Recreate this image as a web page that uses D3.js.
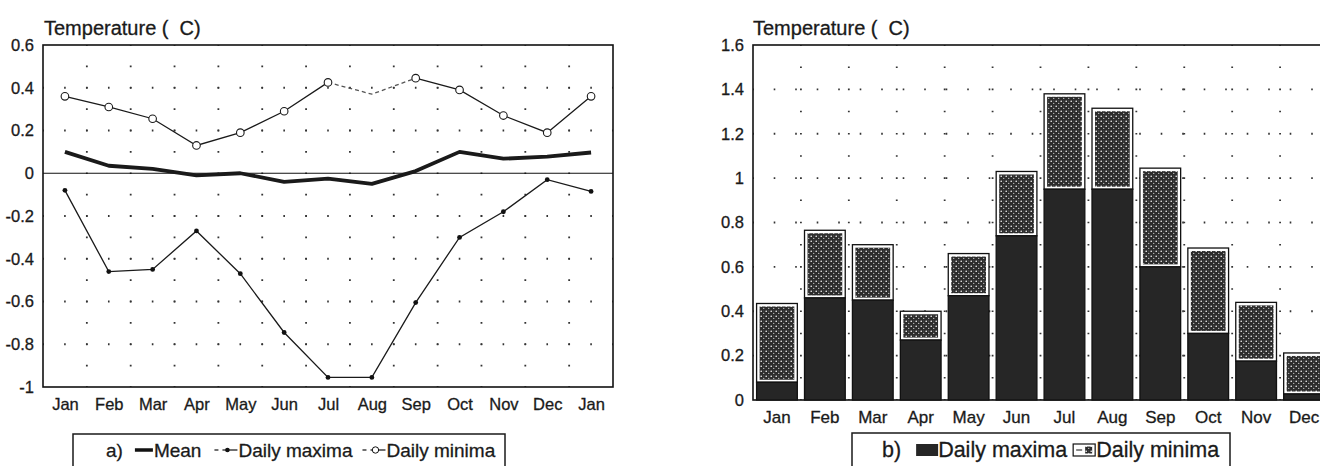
<!DOCTYPE html>
<html>
<head>
<meta charset="utf-8">
<script src="https://cdn.jsdelivr.net/npm/d3@7"></script>
<style>
body { margin: 0; background: #fff; }
text { font-family: "Liberation Sans", Arial, Helvetica, sans-serif; fill: #1a1a1a; stroke: #1a1a1a; stroke-width: 0.3px; }
</style>
</head>
<body>
<div id="chart"></div>
<script>
var width = 1320, height = 466;

// month labels (panel a wraps round to January again)
var monthsA = ["Jan", "Feb", "Mar", "Apr", "May", "Jun", "Jul", "Aug", "Sep", "Oct", "Nov", "Dec", "Jan"];
var monthsB = monthsA.slice(0, 12);

// panel a) series
var meanVals = [0.10, 0.035, 0.02, -0.01, 0.0, -0.04, -0.025, -0.05, 0.01, 0.10, 0.068, 0.078, 0.097];
var maxVals = [-0.08, -0.46, -0.45, -0.27, -0.47, -0.745, -0.955, -0.955, -0.605, -0.30, -0.18, -0.03, -0.085];
var minVals = [0.36, 0.31, 0.255, 0.13, 0.19, 0.29, 0.425, 0.37, 0.445, 0.39, 0.27, 0.19, 0.36];
var ticksA = [0.6, 0.4, 0.2, 0, -0.2, -0.4, -0.6, -0.8, -1];

// panel b) stacked bars
var barMax = [0.08, 0.46, 0.45, 0.27, 0.47, 0.74, 0.95, 0.95, 0.60, 0.30, 0.175, 0.027];
var barMin = [0.355, 0.305, 0.25, 0.13, 0.19, 0.29, 0.43, 0.365, 0.445, 0.385, 0.265, 0.185];
var ticksB = [1.6, 1.4, 1.2, 1, 0.8, 0.6, 0.4, 0.2, 0];

var svg = d3.select("#chart")
    .append("svg")
    .attr("width", width)
    .attr("height", height);

// stipple texture for the minima part of the bars
var defs = svg.append("defs");
var pat = defs.append("pattern").attr("id", "stip")
    .attr("patternUnits", "userSpaceOnUse").attr("width", 5).attr("height", 5);
pat.append("rect").attr("width", 5).attr("height", 5).attr("fill", "#2c2c2c");
pat.append("circle").attr("cx", 1.2).attr("cy", 1.2).attr("r", 0.8).attr("fill", "#fff");
pat.append("circle").attr("cx", 3.7).attr("cy", 3.4).attr("r", 0.7).attr("fill", "#bbb");
pat.append("circle").attr("cx", 3.8).attr("cy", 0.9).attr("r", 0.45).attr("fill", "#888");

// dotted grid line helper
function dotLine(g, x1, y1, x2, y2, gap) {
    g.append("line")
        .attr("x1", x1).attr("y1", y1).attr("x2", x2).attr("y2", y2)
        .attr("stroke", "#333").attr("stroke-width", 1.8)
        .attr("stroke-dasharray", "1.6," + (gap - 1.6))
        .attr("stroke-dashoffset", 0.8);
}

function styleAxis(g, size) {
    g.select(".domain").remove();
    g.selectAll("text").attr("font-size", size).attr("fill", "#1a1a1a");
    g.attr("font-family", null);
}

// ---------- panel a) ----------
var xa = d3.scalePoint().domain(d3.range(13)).range([43, 613]).padding(0.5);
var ya = d3.scaleLinear().domain([-1, 0.6]).range([387, 45]);
var stepA = xa.step();

var ga = svg.append("g");

// grid
var gridA = ga.append("g");
d3.range(1, 13).forEach(function(k) {
    var gx = 43 + k * stepA;
    dotLine(gridA, gx, ya(0.6), gx, ya(-1), ya(0) - ya(0.1));
});
ticksA.filter(function(t) { return t !== 0 && t !== 0.6 && t !== -1; }).forEach(function(t) {
    dotLine(gridA, 43, ya(t), 613, ya(t), stepA / 2);
});

// zero line and frame
ga.append("line").attr("x1", 43).attr("x2", 613).attr("y1", ya(0)).attr("y2", ya(0))
    .attr("stroke", "#111").attr("stroke-width", 1.2);
ga.append("rect").attr("x", 43).attr("y", ya(0.6)).attr("width", 570).attr("height", ya(-1) - ya(0.6))
    .attr("fill", "none").attr("stroke", "#111").attr("stroke-width", 1.6);

// axes
ga.append("g").attr("transform", "translate(43,0)")
    .call(d3.axisLeft(ya).tickValues(ticksA).tickSize(0).tickPadding(9).tickFormat(function(d) { return String(d); }))
    .call(styleAxis, 16.5);
ga.append("g").attr("transform", "translate(0,387)")
    .call(d3.axisBottom(xa).tickSize(0).tickPadding(11).tickFormat(function(i) { return monthsA[i]; }))
    .call(styleAxis, 16.5);

ga.append("text").attr("x", 44).attr("y", 35).attr("font-size", 20).text("Temperature (\u00a0\u00a0C)");

// lines
var lineA = d3.line().x(function(d, i) { return xa(i); }).y(function(d) { return ya(d); });

ga.append("path").datum(meanVals).attr("d", lineA)
    .attr("fill", "none").attr("stroke", "#1a1a1a").attr("stroke-width", 3.8).attr("stroke-linejoin", "round");

ga.append("path").datum(maxVals).attr("d", lineA)
    .attr("fill", "none").attr("stroke", "#1a1a1a").attr("stroke-width", 1.3);
ga.selectAll(".maxpt").data(maxVals).join("circle").attr("class", "maxpt")
    .attr("cx", function(d, i) { return xa(i); }).attr("cy", function(d) { return ya(d); })
    .attr("r", 2.4).attr("fill", "#111");

// minima: solid except the faint dashed stretch round August
ga.append("path").datum(minVals)
    .attr("d", lineA.defined(function(d, i) { return i !== 7; }))
    .attr("fill", "none").attr("stroke", "#1a1a1a").attr("stroke-width", 1.3);
lineA.defined(function() { return true; });
ga.append("path")
    .attr("d", d3.line()([6, 7, 8].map(function(i) { return [xa(i), ya(minVals[i])]; })))
    .attr("fill", "none").attr("stroke", "#555").attr("stroke-width", 1.3).attr("stroke-dasharray", "4,3");
ga.selectAll(".minpt").data(minVals.map(function(d, i) { return { v: d, i: i }; }).filter(function(d) { return d.i !== 7; }))
    .join("circle").attr("class", "minpt")
    .attr("cx", function(d) { return xa(d.i); }).attr("cy", function(d) { return ya(d.v); })
    .attr("r", 3.8).attr("fill", "#fff").attr("stroke", "#1a1a1a").attr("stroke-width", 1.1);

// legend a)
var lgA = svg.append("g");
lgA.append("rect").attr("x", 73).attr("y", 434).attr("width", 432).attr("height", 40)
    .attr("fill", "none").attr("stroke", "#1a1a1a").attr("stroke-width", 1.5);
var lyA = 457, myA = 450;
function lgText(g, x, y, s, size) {
    var t = g.append("text").attr("x", x).attr("y", y).attr("font-size", size).text(s);
    return x + t.node().getComputedTextLength();
}
var cx = lgText(lgA, 106, lyA, "a)", 19) + 12;
lgA.append("line").attr("x1", cx).attr("x2", cx + 18).attr("y1", myA).attr("y2", myA)
    .attr("stroke", "#111").attr("stroke-width", 3.5);
cx = lgText(lgA, cx + 19, lyA, "Mean", 19) + 13;
lgA.append("line").attr("x1", cx).attr("x2", cx + 4).attr("y1", myA).attr("y2", myA).attr("stroke", "#111").attr("stroke-width", 1.2);
lgA.append("line").attr("x1", cx + 8).attr("x2", cx + 23).attr("y1", myA).attr("y2", myA).attr("stroke", "#111").attr("stroke-width", 1.2);
lgA.append("circle").attr("cx", cx + 13).attr("cy", myA).attr("r", 2.3).attr("fill", "#111");
cx = lgText(lgA, cx + 24, lyA, "Daily maxima", 19) + 10;
lgA.append("line").attr("x1", cx).attr("x2", cx + 4).attr("y1", myA).attr("y2", myA).attr("stroke", "#111").attr("stroke-width", 1.2);
lgA.append("line").attr("x1", cx + 8).attr("x2", cx + 23).attr("y1", myA).attr("y2", myA).attr("stroke", "#111").attr("stroke-width", 1.2);
lgA.append("circle").attr("cx", cx + 13).attr("cy", myA).attr("r", 3.2).attr("fill", "#fff").attr("stroke", "#111").attr("stroke-width", 1);
lgText(lgA, cx + 24, lyA, "Daily minima", 19);

// ---------- panel b) ----------
var xb = d3.scaleBand().domain(d3.range(12)).range([753, 1328]).paddingInner(0.15).paddingOuter(0.075);
var yb = d3.scaleLinear().domain([0, 1.6]).range([400, 45]);
var stepB = xb.step(), bw = xb.bandwidth();

var gb = svg.append("g");
var gridB = gb.append("g");
d3.range(1, 12).forEach(function(k) {
    var gx = xb(k) - (stepB - bw) / 2;
    dotLine(gridB, gx, yb(1.6), gx, yb(0), yb(0) - yb(0.1));
});
ticksB.filter(function(t) { return t !== 0 && t !== 1.6; }).forEach(function(t) {
    dotLine(gridB, 753, yb(t), 1328, yb(t), 21.5);
});

gb.append("rect").attr("x", 753).attr("y", yb(1.6)).attr("width", 575).attr("height", yb(0) - yb(1.6))
    .attr("fill", "none").attr("stroke", "#111").attr("stroke-width", 1.6);

gb.append("g").attr("transform", "translate(753,0)")
    .call(d3.axisLeft(yb).tickValues(ticksB).tickSize(0).tickPadding(9).tickFormat(function(d) { return String(d); }))
    .call(styleAxis, 16.5);
gb.append("g").attr("transform", "translate(0,400)")
    .call(d3.axisBottom(xb).tickSize(0).tickPadding(11).tickFormat(function(i) { return monthsB[i]; }))
    .call(styleAxis, 17);

gb.append("text").attr("x", 753).attr("y", 35).attr("font-size", 20).text("Temperature (\u00a0\u00a0C)");

// bars
var bars = gb.selectAll(".bar").data(monthsB.map(function(m, i) { return { i: i, mx: barMax[i], mn: barMin[i] }; }))
    .join("g").attr("class", "bar");
bars.append("rect")
    .attr("x", function(d) { return xb(d.i); })
    .attr("y", function(d) { return yb(d.mx + d.mn); })
    .attr("width", bw)
    .attr("height", function(d) { return yb(d.mx) - yb(d.mx + d.mn); })
    .attr("fill", "#fff").attr("stroke", "#111").attr("stroke-width", 1.3);
bars.append("rect")
    .attr("x", function(d) { return xb(d.i) + 3; })
    .attr("y", function(d) { return yb(d.mx + d.mn) + 3; })
    .attr("width", bw - 6)
    .attr("height", function(d) { return Math.max(0, yb(d.mx) - yb(d.mx + d.mn) - 5.5); })
    .attr("fill", "url(#stip)");
bars.append("rect")
    .attr("x", function(d) { return xb(d.i); })
    .attr("y", function(d) { return yb(d.mx); })
    .attr("width", bw)
    .attr("height", function(d) { return yb(0) - yb(d.mx); })
    .attr("fill", "#262626").attr("stroke", "#111").attr("stroke-width", 1.3);

// legend b)
var lgB = svg.append("g");
lgB.append("rect").attr("x", 852).attr("y", 433).attr("width", 378).attr("height", 40)
    .attr("fill", "none").attr("stroke", "#1a1a1a").attr("stroke-width", 1.5);
var lyB = 457;
var bx = lgText(lgB, 882, lyB, "b)", 21.5) + 15;
lgB.append("rect").attr("x", bx).attr("y", 444).attr("width", 22).attr("height", 12).attr("fill", "#262626");
bx = lgText(lgB, bx + 22, lyB, "Daily maxima", 21.5) + 6;
lgB.append("rect").attr("x", bx).attr("y", 444).attr("width", 22).attr("height", 12)
    .attr("fill", "#fff").attr("stroke", "#111").attr("stroke-width", 1.2);
lgB.append("rect").attr("x", bx + 12).attr("y", 446.5).attr("width", 7).attr("height", 7).attr("fill", "url(#stip)");
lgB.append("line").attr("x1", bx + 3).attr("x2", bx + 9).attr("y1", 450).attr("y2", 450).attr("stroke", "#111").attr("stroke-width", 1);
lgText(lgB, bx + 23, lyB, "Daily minima", 21.5);
</script>
</body>
</html>
